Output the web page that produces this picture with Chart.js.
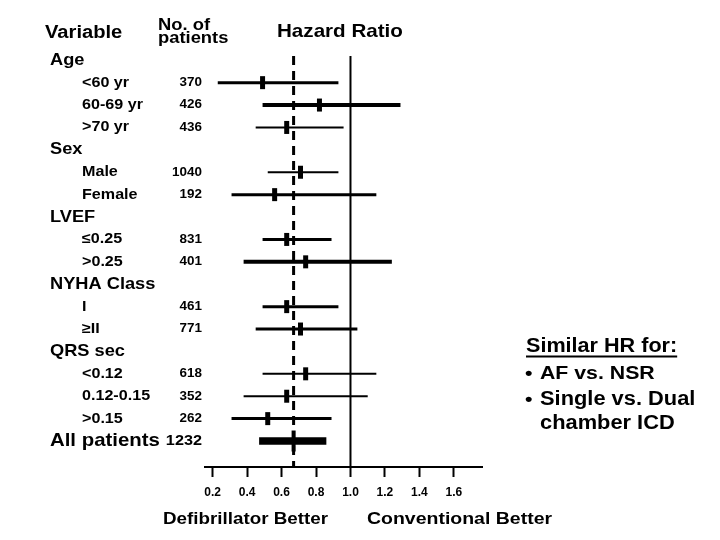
<!DOCTYPE html>
<html>
<head>
<meta charset="utf-8">
<script src="https://cdn.jsdelivr.net/npm/chart.js@4/dist/chart.umd.min.js"></script>
<style>
  html, body { margin: 0; padding: 0; background: #fff; }
  #wrap { width: 720px; height: 540px; position: relative; }
</style>
</head>
<body>
<div id="wrap"><canvas id="c" width="720" height="540"></canvas></div>
<script>
// ---------------- DATA ----------------
const ROW_LABELS = ['Age', '<60 yr', '60-69 yr', '>70 yr', 'Sex', 'Male', 'Female', 'LVEF', '≤0.25', '>0.25',
  'NYHA Class', 'I', '≥II', 'QRS sec', '<0.12', '0.12-0.15', '>0.15', 'All patients'];
const ROW_KIND = ['group', 'sub', 'sub', 'sub', 'group', 'sub', 'sub', 'group', 'sub', 'sub',
  'group', 'sub', 'sub', 'group', 'sub', 'sub', 'sub', 'total'];
const N_PATIENTS = [null, 370, 426, 436, null, 1040, 192, null, 831, 401, null, 461, 771, null, 618, 352, 262, 1232];
const HR      = [null, 0.49, 0.82, 0.63, null, 0.71, 0.56, null, 0.63, 0.74, null, 0.63, 0.71, null, 0.74, 0.63, 0.52, 0.67];
const CI_LOW  = [null, 0.23, 0.49, 0.45, null, 0.52, 0.31, null, 0.49, 0.38, null, 0.49, 0.45, null, 0.49, 0.38, 0.31, 0.47];
const CI_HIGH = [null, 0.93, 1.29, 0.96, null, 0.93, 1.15, null, 0.89, 1.24, null, 0.93, 1.04, null, 1.15, 1.10, 0.89, 0.86];
const X_TICKS = [0.2, 0.4, 0.6, 0.8, 1.0, 1.2, 1.4, 1.6];
const NULL_HR = 1.0;
const OVERALL_HR = 0.67;

// ---------------- STYLE ----------------
const CI_WIDTH = [0, 3, 4, 2, 0, 2, 3, 0, 3, 4, 0, 3, 3, 0, 2, 2, 3, 7.5];
const FONT = '"Liberation Sans", Arial, Helvetica, sans-serif';
const STRETCH = 1.12;

function txt(ctx, text, x, y, size, align, baseline) {
  ctx.save();
  ctx.font = 'bold ' + size + 'px ' + FONT;
  ctx.fillStyle = '#000';
  ctx.textAlign = align || 'left';
  ctx.textBaseline = baseline || 'middle';
  ctx.translate(x, y);
  ctx.scale(STRETCH, 1);
  ctx.fillText(text, 0, 0);
  const w = ctx.measureText(text).width * STRETCH;
  ctx.restore();
  return w;
}

const refLines = {
  id: 'refLines',
  beforeDatasetsDraw(chart) {
    const { ctx, chartArea, scales } = chart;
    const x1 = scales.x.getPixelForValue(NULL_HR);
    const x0 = scales.x.getPixelForValue(OVERALL_HR);
    ctx.save();
    ctx.strokeStyle = '#000';
    ctx.lineWidth = 2;
    ctx.beginPath();
    ctx.moveTo(x1, chartArea.top);
    ctx.lineTo(x1, chartArea.bottom);
    ctx.stroke();
    ctx.lineWidth = 3;
    ctx.setLineDash([9, 6]);
    ctx.beginPath();
    ctx.moveTo(x0, chartArea.top);
    ctx.lineTo(x0, chartArea.bottom);
    ctx.stroke();
    ctx.restore();
  }
};

const textLayer = {
  id: 'textLayer',
  afterDraw(chart) {
    const { ctx, scales } = chart;
    // headers
    txt(ctx, 'Variable', 45, 37.5, 18, 'left', 'alphabetic');
    txt(ctx, 'No. of', 158, 29.5, 16.4, 'left', 'alphabetic');
    txt(ctx, 'patients', 158, 43, 16.4, 'left', 'alphabetic');
    txt(ctx, 'Hazard Ratio', 277, 36.5, 18.4, 'left', 'alphabetic');
    // rows
    ROW_LABELS.forEach((lab, i) => {
      const y = scales.y.getPixelForValue(i);
      const kind = ROW_KIND[i];
      if (kind === 'group') txt(ctx, lab, 50, y, 16.3);
      else if (kind === 'total') txt(ctx, lab, 50, y, 18.2);
      else txt(ctx, lab, 82, y, 14.4);
      if (N_PATIENTS[i] != null) {
        txt(ctx, String(N_PATIENTS[i]), 202, y, kind === 'total' ? 14.5 : 12, 'right');
      }
    });
    // footer
    txt(ctx, 'Defibrillator Better', 163, 519, 16.8);
    txt(ctx, 'Conventional Better', 367, 519, 17.4);
    // side note
    const w = txt(ctx, 'Similar HR for:', 526, 346.5, 19.3);
    ctx.save();
    ctx.strokeStyle = '#000';
    ctx.lineWidth = 2;
    ctx.beginPath();
    ctx.moveTo(526, 356.5);
    ctx.lineTo(526 + w, 356.5);
    ctx.stroke();
    ctx.restore();
    txt(ctx, '•', 525, 373.5, 19);
    txt(ctx, 'AF vs. NSR', 540, 373.5, 19);
    txt(ctx, '•', 525, 399.5, 19);
    txt(ctx, 'Single vs. Dual', 540, 399.5, 19.5);
    txt(ctx, 'chamber ICD', 540, 423.5, 19.5);
  }
};

// ---------------- DATASETS ----------------
const datasets = [];
ROW_LABELS.forEach((lab, i) => {
  if (HR[i] == null) return;
  datasets.push({
    label: lab + ' CI',
    data: [{ x: CI_LOW[i], y: i }, { x: CI_HIGH[i], y: i }],
    showLine: true,
    borderColor: '#000',
    borderWidth: CI_WIDTH[i],
    pointRadius: 0,
    pointHoverRadius: 0
  });
});
const markerIdx = ROW_LABELS.map((_, i) => i).filter(i => HR[i] != null);
datasets.push({
  label: 'HR',
  data: markerIdx.map(i => ({ x: HR[i], y: i })),
  showLine: false,
  pointStyle: 'line',
  rotation: 90,
  borderColor: '#000',
  backgroundColor: '#000',
  pointBorderWidth: markerIdx.map(i => ROW_KIND[i] === 'total' ? 4 : 5),
  pointRadius: markerIdx.map(i => ROW_KIND[i] === 'total' ? 10.5 : 6.5),
  pointHoverRadius: 0
});

new Chart(document.getElementById('c'), {
  type: 'scatter',
  data: { datasets },
  plugins: [refLines, textLayer],
  options: {
    responsive: false,
    animation: false,
    events: [],
    layout: { padding: { left: 205, right: 238, top: 56, bottom: 23 } },
    plugins: { legend: { display: false }, tooltip: { enabled: false } },
    scales: {
      x: {
        type: 'linear',
        min: 0.156,
        max: 1.763,
        afterBuildTicks: (s) => { s.ticks = X_TICKS.map(v => ({ value: v })); },
        afterFit: (s) => { s.height = 50; },
        border: { display: true, color: '#000', width: 2 },
        grid: { display: true, drawOnChartArea: false, drawTicks: true, tickLength: 10, tickWidth: 2, tickColor: '#000', color: '#000' },
        ticks: {
          color: '#000',
          font: { family: FONT, weight: 'bold', size: 12 },
          padding: 8,
          autoSkip: false,
          maxRotation: 0,
          callback: (v) => Number(v).toFixed(1)
        }
      },
      y: {
        type: 'linear',
        reverse: true,
        min: -0.19,
        max: 18.16,
        display: false
      }
    }
  }
});
</script>
</body>
</html>
